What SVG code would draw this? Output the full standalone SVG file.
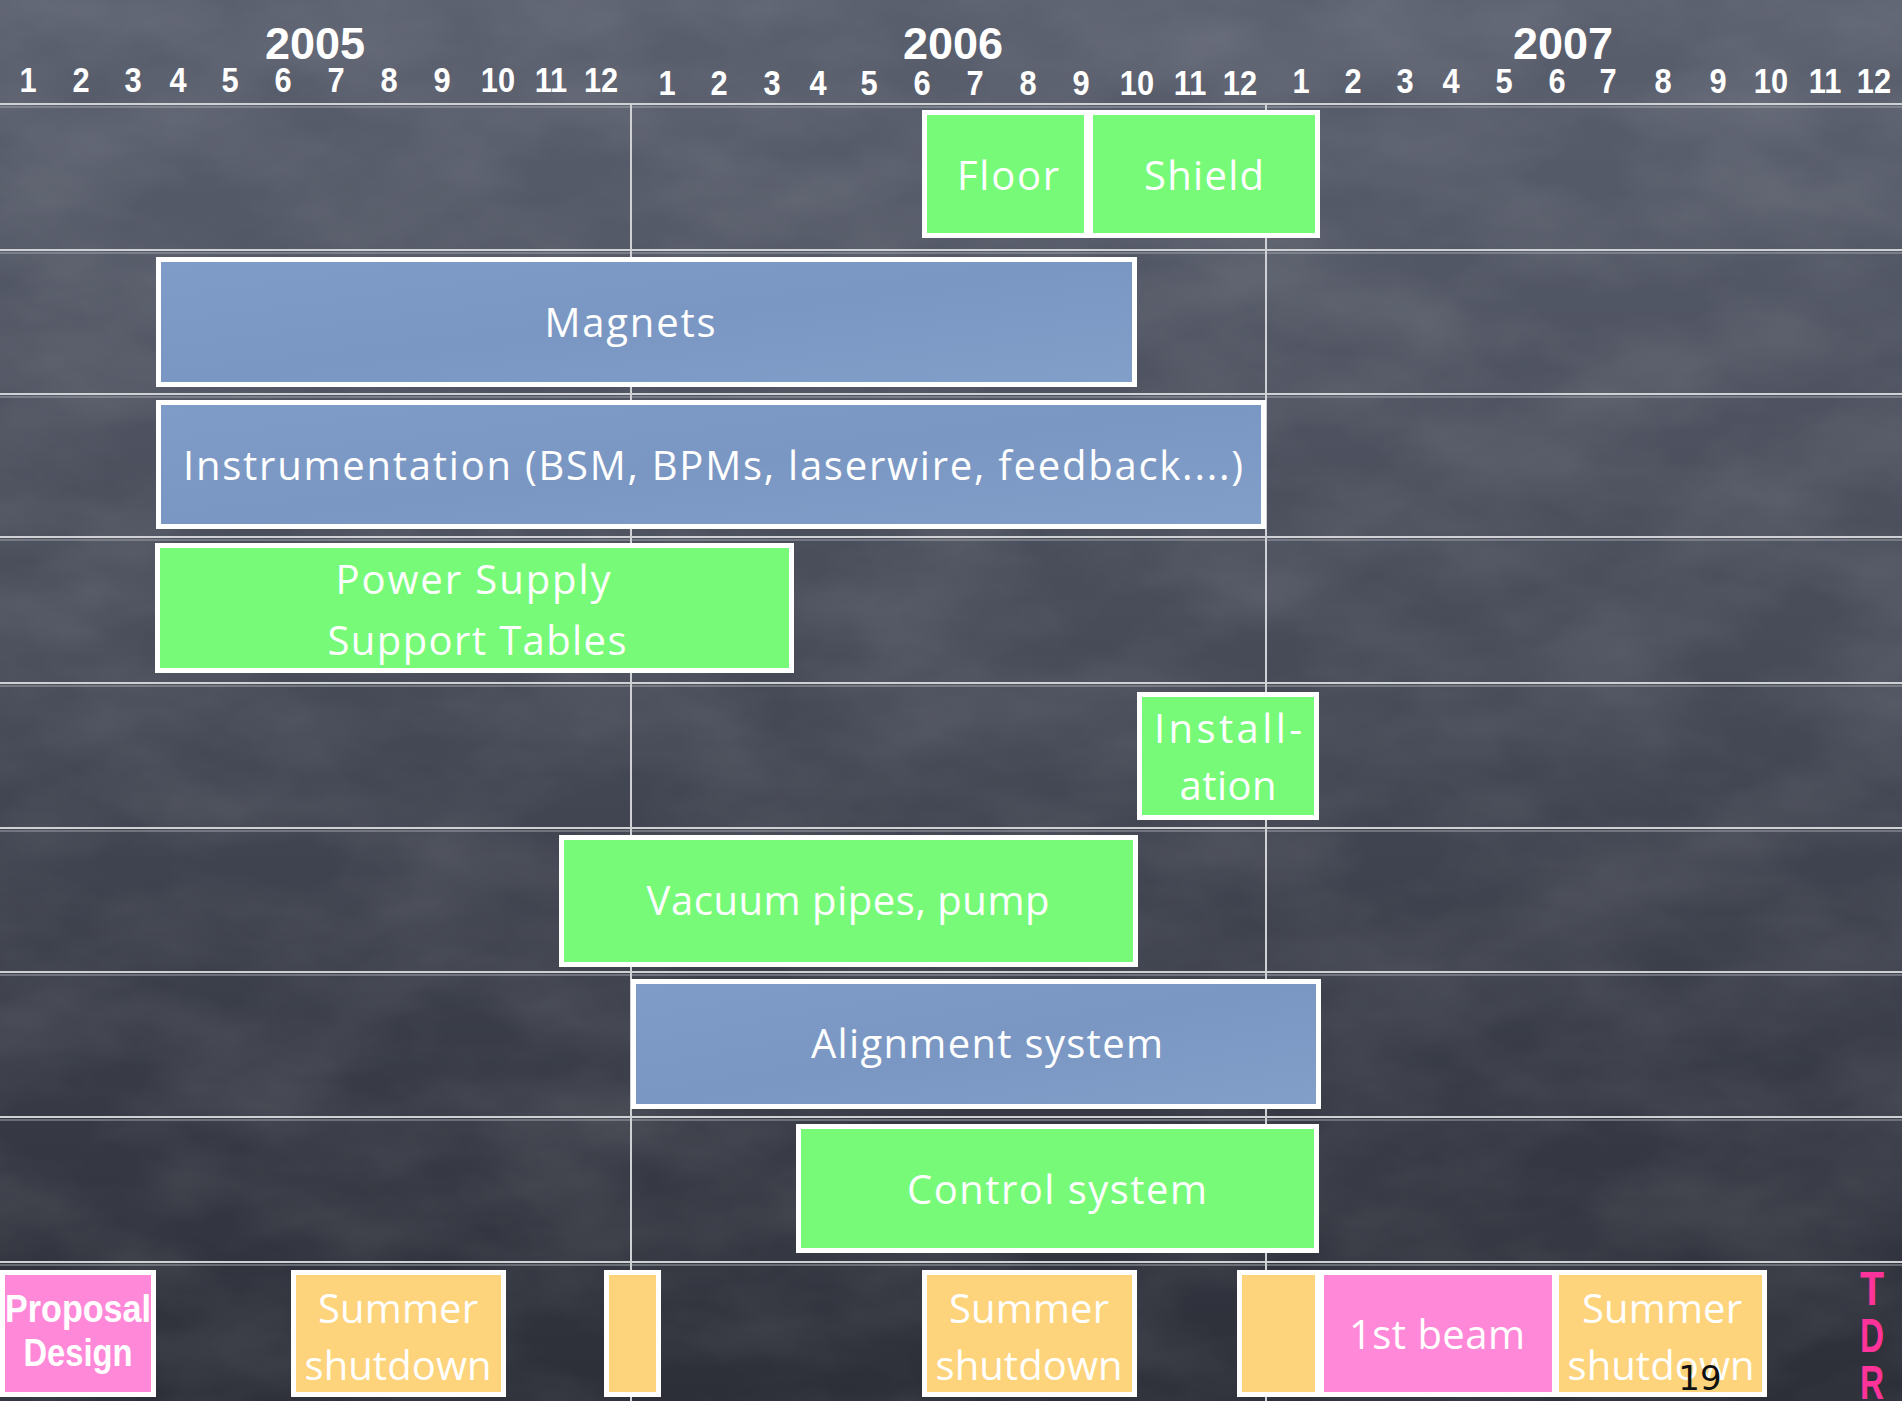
<svg xmlns="http://www.w3.org/2000/svg" width="1902" height="1401" viewBox="0 0 1902 1401">
<defs>
<linearGradient id="bg" x1="0" y1="0" x2="0" y2="1">
<stop offset="0" stop-color="#5a5f6e"/>
<stop offset="0.45" stop-color="#484c59"/>
<stop offset="1" stop-color="#2c2f38"/>
</linearGradient>
<linearGradient id="blue" x1="0" y1="0" x2="1" y2="1">
<stop offset="0" stop-color="#7f9cc8"/>
<stop offset="0.5" stop-color="#7a97c3"/>
<stop offset="1" stop-color="#829fca"/>
</linearGradient>
<filter id="chalk" x="0" y="0" width="100%" height="100%">
<feTurbulence type="fractalNoise" baseFrequency="0.006 0.012" numOctaves="4" seed="7"/>
<feColorMatrix values="0 0 0 0 1  0 0 0 0 1  0 0 0 0 1  0.16 0 0 0 -0.05"/>
</filter>
<style>
.grid{stroke:#cfd1d5;stroke-width:2;fill:none}
.grid2{stroke:#9ea1a8;stroke-width:1.2;fill:none}
.yr{font-family:"Liberation Sans",Arial,sans-serif;font-weight:bold;font-size:45px;fill:#ffffff;text-anchor:middle}
.mo{font-family:"Liberation Sans",Arial,sans-serif;font-weight:bold;font-size:35px;fill:#ffffff;text-anchor:middle}
.box{stroke:#ffffff;stroke-width:5}
.g{fill:#78fa79}
.b{fill:url(#blue)}
.p{fill:#ff89d8}
.o{fill:#fdd37b}
.t{font-family:"Open Sans","Noto Sans",sans-serif;font-size:40px;fill:#ffffff;text-anchor:middle}
.tb{font-family:"Liberation Sans",Arial,sans-serif;font-weight:bold;font-size:38px;fill:#ffffff;text-anchor:middle}
.tdr{font-family:"Liberation Sans",Arial,sans-serif;font-weight:bold;font-size:48px;fill:#ff3399;text-anchor:middle}
.pg{font-family:"DejaVu Sans",sans-serif;font-size:34px;fill:#111111;text-anchor:middle}
</style>
</defs>
<rect x="0" y="0" width="1902" height="1401" fill="url(#bg)"/>
<rect x="0" y="0" width="1902" height="1401" filter="url(#chalk)"/>

<g id="header">
<text class="yr" x="315" y="59">2005</text>
<text class="yr" x="953" y="59">2006</text>
<text class="yr" x="1563" y="59">2007</text>
<g id="months" transform="scale(0.88,1)">
<g id="months-2005">
<text class="mo" x="31.8" y="92">1</text><text class="mo" x="92" y="92">2</text><text class="mo" x="151.1" y="92">3</text><text class="mo" x="202.3" y="92">4</text><text class="mo" x="261.4" y="92">5</text><text class="mo" x="321.6" y="92">6</text><text class="mo" x="381.8" y="92">7</text><text class="mo" x="442" y="92">8</text><text class="mo" x="502.3" y="92">9</text><text class="mo" x="565.9" y="92">10</text><text class="mo" x="626.1" y="92">11</text><text class="mo" x="683" y="92">12</text>
</g>
<g id="months-2006">
<text class="mo" x="758" y="95">1</text><text class="mo" x="817" y="95">2</text><text class="mo" x="877.3" y="95">3</text><text class="mo" x="929.5" y="95">4</text><text class="mo" x="987.5" y="95">5</text><text class="mo" x="1047.7" y="95">6</text><text class="mo" x="1108" y="95">7</text><text class="mo" x="1168.2" y="95">8</text><text class="mo" x="1228.4" y="95">9</text><text class="mo" x="1292" y="95">10</text><text class="mo" x="1352.3" y="95">11</text><text class="mo" x="1409.1" y="95">12</text>
</g>
<g id="months-2007">
<text class="mo" x="1478.4" y="93">1</text><text class="mo" x="1537.5" y="93">2</text><text class="mo" x="1596.6" y="93">3</text><text class="mo" x="1648.9" y="93">4</text><text class="mo" x="1709.1" y="93">5</text><text class="mo" x="1769.3" y="93">6</text><text class="mo" x="1827.3" y="93">7</text><text class="mo" x="1889.8" y="93">8</text><text class="mo" x="1952.3" y="93">9</text><text class="mo" x="2012.5" y="93">10</text><text class="mo" x="2073.9" y="93">11</text><text class="mo" x="2129.5" y="93">12</text>
</g>
</g>
</g>

<g id="grid">
<line class="grid" x1="0" y1="104" x2="1902" y2="104"/><line class="grid2" x1="0" y1="107" x2="1902" y2="107"/>
<line class="grid" x1="0" y1="250" x2="1902" y2="250"/><line class="grid2" x1="0" y1="253" x2="1902" y2="253"/>
<line class="grid" x1="0" y1="394" x2="1902" y2="394"/><line class="grid2" x1="0" y1="397" x2="1902" y2="397"/>
<line class="grid" x1="0" y1="537" x2="1902" y2="537"/><line class="grid2" x1="0" y1="540" x2="1902" y2="540"/>
<line class="grid" x1="0" y1="683" x2="1902" y2="683"/><line class="grid2" x1="0" y1="686" x2="1902" y2="686"/>
<line class="grid" x1="0" y1="828" x2="1902" y2="828"/><line class="grid2" x1="0" y1="831" x2="1902" y2="831"/>
<line class="grid" x1="0" y1="972" x2="1902" y2="972"/><line class="grid2" x1="0" y1="975" x2="1902" y2="975"/>
<line class="grid" x1="0" y1="1117" x2="1902" y2="1117"/><line class="grid2" x1="0" y1="1120" x2="1902" y2="1120"/>
<line class="grid" x1="0" y1="1262" x2="1902" y2="1262"/><line class="grid2" x1="0" y1="1265" x2="1902" y2="1265"/>
<line class="grid" x1="631" y1="104" x2="631" y2="1401"/>
<line class="grid" x1="1266" y1="104" x2="1266" y2="1401"/>
</g>

<g id="floor"><rect class="box g" x="924.5" y="112.5" width="162" height="123"/><text class="t" x="1008" y="190" textLength="102">Floor</text></g>
<g id="shield"><rect class="box g" x="1090.5" y="112.5" width="227" height="123"/><text class="t" x="1204" y="190" textLength="120">Shield</text></g>
<g id="magnets"><rect class="box b" x="158.5" y="259.5" width="976" height="125"/><text class="t" x="630" y="337" textLength="171">Magnets</text></g>
<g id="instrumentation"><rect class="box b" x="158.5" y="402.5" width="1105" height="124"/><text class="t" x="713" y="480" textLength="1060">Instrumentation (BSM, BPMs, laserwire, feedback....)</text></g>
<g id="power-supply"><rect class="box g" x="157.5" y="545.5" width="634" height="125"/><text class="t" x="473" y="594" textLength="275">Power Supply</text><text class="t" x="477" y="655" textLength="299">Support Tables</text></g>
<g id="installation"><rect class="box g" x="1139.5" y="694.5" width="177" height="123"/><text class="t" x="1228" y="743" textLength="148">Install-</text><text class="t" x="1228" y="800" textLength="97">ation</text></g>
<g id="vacuum"><rect class="box g" x="561.5" y="837.5" width="574" height="127"/><text class="t" x="848" y="915" textLength="403">Vacuum pipes, pump</text></g>
<g id="alignment"><rect class="box b" x="633.5" y="981.5" width="685" height="125"/><text class="t" x="987" y="1058" textLength="352">Alignment system</text></g>
<g id="control"><rect class="box g" x="798.5" y="1126.5" width="518" height="124"/><text class="t" x="1057" y="1204" textLength="300">Control system</text></g>

<g id="proposal-design"><rect class="box p" x="2.5" y="1272.5" width="151" height="122"/><text class="tb" x="78" y="1322" textLength="146" lengthAdjust="spacingAndGlyphs">Proposal</text><text class="tb" x="78" y="1366" textLength="109" lengthAdjust="spacingAndGlyphs">Design</text></g>
<g id="summer-2005"><rect class="box o" x="293.5" y="1272.5" width="210" height="122"/><text class="t" x="398" y="1323" textLength="160">Summer</text><text class="t" x="398" y="1380" textLength="187">shutdown</text></g>
<g id="winter-2005"><rect class="box o" x="606.5" y="1272.5" width="52" height="122"/></g>
<g id="summer-2006"><rect class="box o" x="924.5" y="1272.5" width="210" height="122"/><text class="t" x="1029" y="1323" textLength="160">Summer</text><text class="t" x="1029" y="1380" textLength="187">shutdown</text></g>
<g id="winter-2006"><rect class="box o" x="1239.5" y="1272.5" width="78" height="122"/></g>
<g id="first-beam"><rect class="box p" x="1321.5" y="1272.5" width="233" height="122"/><text class="t" x="1437" y="1349" textLength="176">1st beam</text></g>
<g id="summer-2007"><rect class="box o" x="1556.5" y="1272.5" width="208" height="122"/><text class="t" x="1662" y="1323" textLength="160">Summer</text><text class="t" x="1661" y="1380" textLength="187">shutdown</text></g>

<g id="tdr">
<text class="tdr" x="1872" y="1305" textLength="24" lengthAdjust="spacingAndGlyphs">T</text>
<text class="tdr" x="1872" y="1352" textLength="24" lengthAdjust="spacingAndGlyphs">D</text>
<text class="tdr" x="1872" y="1399" textLength="24" lengthAdjust="spacingAndGlyphs">R</text>
</g>
<text id="page-number" class="pg" x="1700" y="1390">19</text>
</svg>
